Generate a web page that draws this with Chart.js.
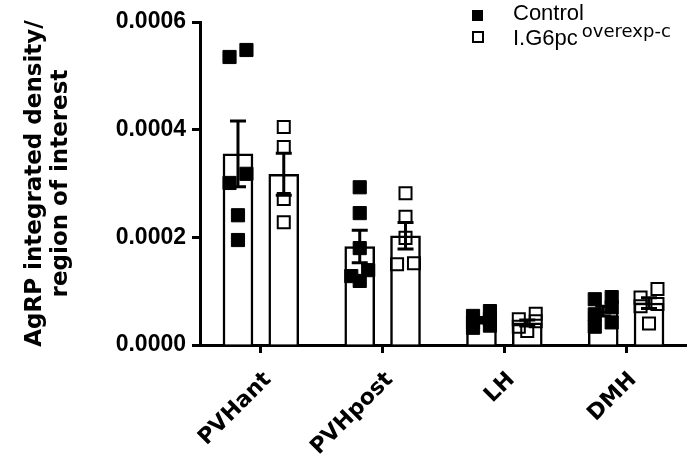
<!DOCTYPE html>
<html>
<head>
<meta charset="utf-8">
<script src="https://cdn.jsdelivr.net/npm/chart.js@4.4.1/dist/chart.umd.min.js"></script>
<style>
  html, body { margin: 0; padding: 0; background: #fff; }
  #wrap { width: 687px; height: 454px; position: relative; }
</style>
</head>
<body>
<div id="wrap"><canvas id="c"></canvas></div>
<script>
// Brain regions on the x axis
const regions = ['PVHant', 'PVHpost', 'LH', 'DMH'];
const yTickLabels = ['0.0000', '0.0002', '0.0004', '0.0006'];
const seriesNames = ['Control', 'I.G6pc'];
const seriesSuperscripts = ['', 'overexp-c'];

// Group means and SEM per region
const controlMean = [0.000355, 0.000183, 0.000046, 0.000063];
const controlSem  = [0.000061, 0.000030, 0.000005, 0.000009];
const g6pcMean    = [0.000317, 0.000203, 0.000041, 0.000078];
const g6pcSem     = [0.000039, 0.0000245, 0.0000055, 0.000010];

// Individual animals, per region
const controlPVHant  = [0.000548, 0.000535, 0.000318, 0.000301, 0.000241, 0.000195];
const controlPVHpost = [0.000293, 0.000245, 0.000180, 0.000139, 0.000128, 0.000119];
const controlLH      = [0.000063, 0.000054, 0.000048, 0.000042, 0.000036, 0.000032];
const controlDMH     = [0.000089, 0.000085, 0.000070, 0.000057, 0.000042, 0.000034];
const g6pcPVHant     = [0.000405, 0.000368, 0.000271, 0.000228];
const g6pcPVHpost    = [0.000282, 0.000238, 0.000199, 0.000152, 0.000150];
const g6pcLH         = [0.000058, 0.000048, 0.000044, 0.000034, 0.000026];
const g6pcDMH        = [0.000104, 0.000088, 0.000076, 0.000072, 0.000040];

const controlPoints = [controlPVHant, controlPVHpost, controlLH, controlDMH];
const g6pcPoints    = [g6pcPVHant, g6pcPVHpost, g6pcLH, g6pcDMH];

// Placement inside a category, in category units on the hidden linear axis
const GROUP_SHIFT = 0.188;   // distance from category centre to each bar centre
const STEP = 0.139;          // horizontal spacing between neighbouring points in a row
const ROW_GAP = 0.000026;    // values closer than this share a row

// Column scatter: close values are placed side by side, each row centred
function spreadPoints(values, catIndex, side) {
  const sorted = values.slice().sort((a, b) => b - a);
  const out = [];
  let row = [];
  const centre = catIndex + side * GROUP_SHIFT;
  const flush = () => {
    const n = row.length;
    row.forEach((v, k) => out.push({ x: centre + ((n - 1) / 2 - k) * STEP, y: v }));
    row = [];
  };
  for (const v of sorted) {
    if (row.length && (row.length >= 2 || row[0] - v >= ROW_GAP)) flush();
    row.push(v);
  }
  flush();
  return out;
}

const barPoints = (means, side) => means.map((m, i) => ({ x: i + side * GROUP_SHIFT, y: m }));

const controlScatter = controlPoints.flatMap((vals, i) => spreadPoints(vals, i, -1));
const g6pcScatter = g6pcPoints.flatMap((vals, i) => spreadPoints(vals, i, 1));

// Mean ± SEM whiskers drawn right after each bar dataset
const errorBars = {
  id: 'errorBars',
  afterDatasetDraw(chart, args) {
    const ds = chart.data.datasets[args.index];
    if (!ds.sem) return;
    const y = chart.scales.y;
    const ctx = chart.ctx;
    ctx.save();
    ctx.strokeStyle = '#000';
    ctx.lineWidth = 3;
    args.meta.data.forEach((bar, i) => {
      const m = ds.data[i].y, s = ds.sem[i];
      const top = y.getPixelForValue(m + s);
      const bot = y.getPixelForValue(m - s);
      const half = 8;
      ctx.beginPath();
      ctx.moveTo(bar.x, top); ctx.lineTo(bar.x, bot);
      ctx.moveTo(bar.x - half, top); ctx.lineTo(bar.x + half, top);
      ctx.moveTo(bar.x - half, bot); ctx.lineTo(bar.x + half, bot);
      ctx.stroke();
    });
    ctx.restore();
  }
};

// Legend with superscript on the second entry
const legendBox = {
  id: 'legendBox',
  afterDraw(chart) {
    const ctx = chart.ctx;
    ctx.save();
    ctx.fillStyle = '#000';
    ctx.strokeStyle = '#000';
    ctx.fillRect(472, 10, 11, 11);
    ctx.lineWidth = 2;
    ctx.strokeRect(473, 32, 10, 10);
    ctx.textBaseline = 'alphabetic';
    ctx.textAlign = 'left';
    ctx.font = '22px "Liberation Sans", Arial, sans-serif';
    ctx.fillText(seriesNames[0], 513, 20);
    ctx.fillText(seriesNames[1], 513, 45);
    const w = ctx.measureText(seriesNames[1]).width;
    ctx.font = '18px "DejaVu Sans", sans-serif';
    ctx.fillText(seriesSuperscripts[1], 513 + w + 4, 37);
    ctx.restore();
  }
};

const barStyle = {
  type: 'bar', xAxisID: 'xs', yAxisID: 'y', grouped: false,
  backgroundColor: '#fff', borderColor: '#000', borderWidth: 2.5,
  categoryPercentage: 1, barPercentage: 1, maxBarThickness: 30
};

new Chart(document.getElementById('c'), {
  data: {
    labels: regions,
    datasets: [
      Object.assign({ label: seriesNames[0], data: barPoints(controlMean, -1), sem: controlSem, order: 3 }, barStyle),
      Object.assign({ label: seriesNames[1], data: barPoints(g6pcMean, 1), sem: g6pcSem, order: 2 }, barStyle),
      {
        type: 'scatter', label: seriesNames[0] + ' points', data: controlScatter,
        xAxisID: 'xs', yAxisID: 'y', order: 1, clip: false, showLine: false,
        pointStyle: 'rect', pointRadius: 9.3, pointBorderWidth: 1,
        pointBackgroundColor: '#000', pointBorderColor: '#000'
      },
      {
        type: 'scatter', label: seriesNames[1] + ' points', data: g6pcScatter,
        xAxisID: 'xs', yAxisID: 'y', order: 0, clip: false, showLine: false,
        pointStyle: 'rect', pointRadius: 8.5, pointBorderWidth: 2,
        pointBackgroundColor: 'rgba(0,0,0,0)', pointBorderColor: '#000'
      }
    ]
  },
  options: {
    responsive: true,
    maintainAspectRatio: false,
    animation: false,
    events: [],
    layout: { autoPadding: false, padding: { top: 22, right: -2, bottom: 0, left: 0 } },
    plugins: { legend: { display: false }, tooltip: { enabled: false } },
    scales: {
      x: {
        type: 'category',
        labels: regions,
        offset: true,
        grid: { drawOnChartArea: false, offset: false, tickLength: 8, tickWidth: 3, tickColor: '#000' },
        border: { color: '#000', width: 3 },
        ticks: {
          color: '#000', minRotation: 45, maxRotation: 45, padding: 14, labelOffset: 7,
          font: { family: '"DejaVu Sans", sans-serif', weight: 'bold', size: 22 }
        },
        afterFit(s) { s.height = 109; s.paddingRight = 0; }
      },
      xs: {
        type: 'linear', min: -0.5, max: 3.5, offset: false, display: false,
        grid: { offset: false }
      },
      y: {
        type: 'linear',
        min: 0, max: 0.0006,
        grid: { drawOnChartArea: false, tickLength: 8, tickWidth: 3, tickColor: '#000' },
        border: { color: '#000', width: 3 },
        ticks: {
          stepSize: 0.0002, color: '#000', padding: 6,
          font: { family: '"Liberation Sans", Arial, sans-serif', weight: 'bold', size: 23 },
          callback: (v, i) => yTickLabels[i]
        },
        title: {
          display: true,
          text: ['AgRP integrated density/', 'region of interest'],
          color: '#000',
          font: { family: '"DejaVu Sans", sans-serif', weight: 'bold', size: 23, lineHeight: 1.13 },
          padding: { top: 22, bottom: 0 }
        },
        afterFit(s) { s.width = 200; }
      }
    }
  },
  plugins: [errorBars, legendBox]
});
</script>
</body>
</html>
